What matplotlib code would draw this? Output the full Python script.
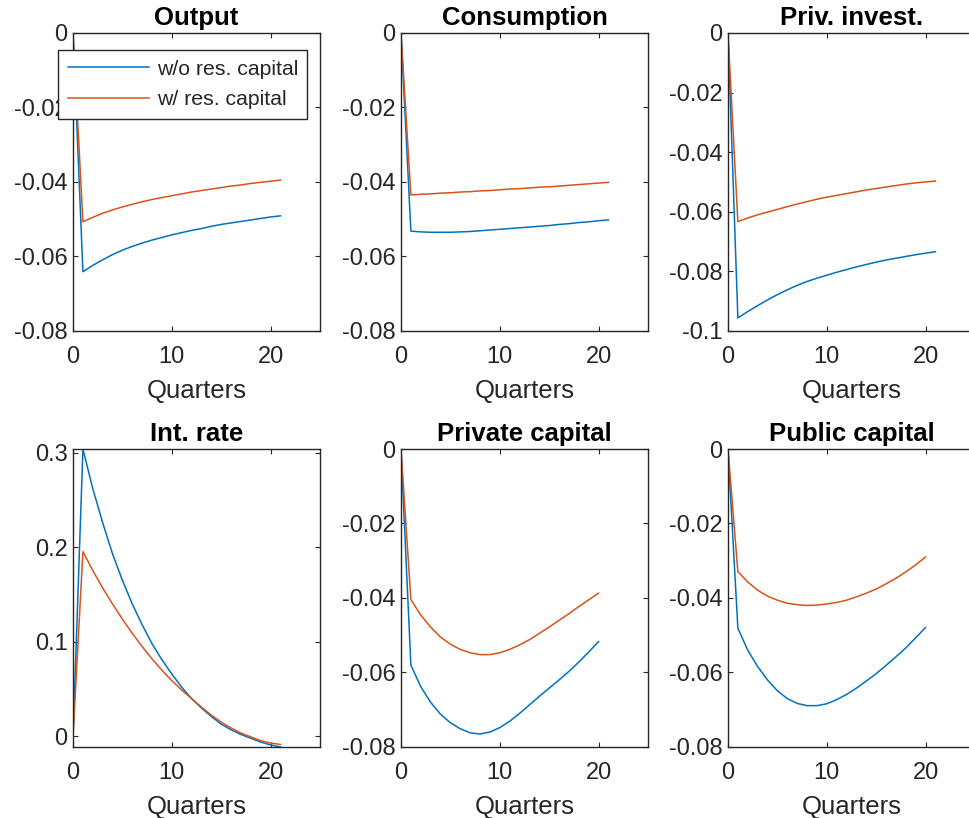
import numpy as np
import matplotlib
matplotlib.use('Agg')
import matplotlib.pyplot as plt
from matplotlib.ticker import FuncFormatter

# impulse responses, w/o and w/ residential capital
quarters = np.arange(0, 22)
quarters_k = np.arange(0, 21)

output_wo = [0, -0.0641, -0.0624, -0.0609, -0.0595, -0.0583, -0.0573, -0.0564, -0.0556, -0.0549, -0.0542,
             -0.0536, -0.0530, -0.0525, -0.0519, -0.0514, -0.0510, -0.0506, -0.0502, -0.0498, -0.0494, -0.0491]
output_w = [0, -0.0507, -0.0495, -0.0484, -0.0475, -0.0467, -0.0460, -0.0453, -0.0447, -0.0442, -0.0437,
            -0.0432, -0.0427, -0.0423, -0.0419, -0.0415, -0.0411, -0.0408, -0.0404, -0.0401, -0.0398, -0.0395]

cons_wo = [0, -0.0532, -0.0534, -0.0535, -0.0535, -0.0535, -0.0534, -0.0533, -0.0531, -0.0529, -0.0527,
           -0.0525, -0.0523, -0.0521, -0.0519, -0.0517, -0.0514, -0.0512, -0.0509, -0.0507, -0.0504, -0.0502]
cons_w = [0, -0.0435, -0.0433, -0.0432, -0.0430, -0.0429, -0.0427, -0.0426, -0.0424, -0.0423, -0.0421,
          -0.0419, -0.0418, -0.0416, -0.0414, -0.0413, -0.0411, -0.0409, -0.0407, -0.0405, -0.0403, -0.0401]

inv_wo = [0, -0.0956, -0.0935, -0.0915, -0.0896, -0.0878, -0.0862, -0.0847, -0.0834, -0.0823, -0.0813,
          -0.0803, -0.0794, -0.0785, -0.0777, -0.0769, -0.0762, -0.0756, -0.0750, -0.0744, -0.0739, -0.0734]
inv_w = [0, -0.0633, -0.0621, -0.0610, -0.0601, -0.0592, -0.0583, -0.0574, -0.0566, -0.0558, -0.0551,
         -0.0545, -0.0539, -0.0533, -0.0527, -0.0522, -0.0517, -0.0512, -0.0507, -0.0503, -0.0500, -0.0497]

rate_wo = [0, 0.3040, 0.2620, 0.2260, 0.1930, 0.1650, 0.1400, 0.1180, 0.0980, 0.0810, 0.0660,
           0.0520, 0.0400, 0.0300, 0.0210, 0.0130, 0.0070, 0.0020, -0.0020, -0.0060, -0.0090, -0.0112]
rate_w = [0, 0.1955, 0.1755, 0.1570, 0.1400, 0.1240, 0.1090, 0.0950, 0.0820, 0.0700, 0.0590,
          0.0490, 0.0400, 0.0310, 0.0225, 0.0150, 0.0090, 0.0035, -0.0005, -0.0045, -0.0070, -0.0085]

kp_wo = [0, -0.0580, -0.0638, -0.0680, -0.0712, -0.0735, -0.0751, -0.0762, -0.0765, -0.0760, -0.0748,
         -0.0731, -0.0710, -0.0687, -0.0664, -0.0642, -0.0620, -0.0597, -0.0572, -0.0545, -0.0517]
kp_w = [0, -0.0404, -0.0446, -0.0478, -0.0505, -0.0524, -0.0538, -0.0547, -0.0552, -0.0552, -0.0547,
        -0.0538, -0.0526, -0.0512, -0.0495, -0.0478, -0.0460, -0.0442, -0.0423, -0.0405, -0.0387]

kg_wo = [0, -0.0481, -0.0540, -0.0584, -0.0620, -0.0649, -0.0670, -0.0683, -0.0689, -0.0689, -0.0684,
         -0.0673, -0.0659, -0.0642, -0.0623, -0.0603, -0.0581, -0.0558, -0.0534, -0.0507, -0.0479]
kg_w = [0, -0.0329, -0.0357, -0.0379, -0.0395, -0.0406, -0.0414, -0.0418, -0.0420, -0.0419, -0.0416,
        -0.0412, -0.0406, -0.0397, -0.0387, -0.0376, -0.0362, -0.0347, -0.0330, -0.0311, -0.0290]

titles = ['Output', 'Consumption', 'Priv. invest.', 'Int. rate', 'Private capital', 'Public capital']
legend_labels = ['w/o res. capital', 'w/ res. capital']

blue = '#0072BD'
orange = '#D95319'
grey = '#262626'

plt.rcParams['font.family'] = ['Liberation Sans', 'DejaVu Sans']
plt.rcParams['axes.unicode_minus'] = False


def fmt(v, pos):
    return '%g' % round(v, 4)


def main():
    fig = plt.figure(figsize=(9.70, 8.18), dpi=100)

    lefts = [0.0753, 0.4134, 0.7505]
    bottoms = [0.5954, 0.0868]
    w, h = 0.2546, 0.3643

    panels = [
        (quarters, output_wo, output_w, (-0.08, 0), np.arange(-0.08, 0.001, 0.02)),
        (quarters, cons_wo, cons_w, (-0.08, 0), np.arange(-0.08, 0.001, 0.02)),
        (quarters, inv_wo, inv_w, (-0.1, 0), np.arange(-0.1, 0.001, 0.02)),
        (quarters, rate_wo, rate_w, (-0.0112, 0.304), [0, 0.1, 0.2, 0.3]),
        (quarters_k, kp_wo, kp_w, (-0.08, 0), np.arange(-0.08, 0.001, 0.02)),
        (quarters_k, kg_wo, kg_w, (-0.08, 0), np.arange(-0.08, 0.001, 0.02)),
    ]

    axes = []
    for i, (x, wo, wi, ylim, yticks) in enumerate(panels):
        ax = fig.add_axes([lefts[i % 3], bottoms[i // 3], w, h])
        ax.plot(x, wo, color=blue, lw=1.1, label=legend_labels[0])
        ax.plot(x, wi, color=orange, lw=1.1, label=legend_labels[1])
        ax.set_xlim(0, 25)
        ax.set_ylim(*ylim)
        ax.set_xticks([0, 10, 20])
        ax.set_yticks(yticks)
        ax.yaxis.set_major_formatter(FuncFormatter(fmt))
        ax.tick_params(direction='in', top=True, right=True, length=3.5, width=0.8,
                       colors=grey, labelsize=17)
        ax.tick_params(axis='x', pad=11)
        ax.tick_params(axis='y', pad=4)
        for s in ax.spines.values():
            s.set_color(grey)
            s.set_linewidth(1.0)
        ax.set_title(titles[i], fontsize=18.5, fontweight='bold', pad=5.5)
        ax.set_xlabel('Quarters', fontsize=18.5, color=grey, labelpad=8)
        axes.append(ax)

    leg = axes[0].legend(loc='upper left', bbox_to_anchor=(0.0598, 0.9389, 0.2567, 0),
                         bbox_transform=fig.transFigure, mode='expand', borderaxespad=0,
                         fontsize=15.3, handlelength=3.85, handletextpad=0.35,
                         borderpad=0.45, labelspacing=0.55, fancybox=False, framealpha=1)
    leg.get_frame().set_edgecolor(grey)
    leg.get_frame().set_linewidth(1.0)
    for t in leg.get_texts():
        t.set_color(grey)

    fig.savefig('out.png', dpi=100, facecolor='white')


if __name__ == '__main__':
    main()
